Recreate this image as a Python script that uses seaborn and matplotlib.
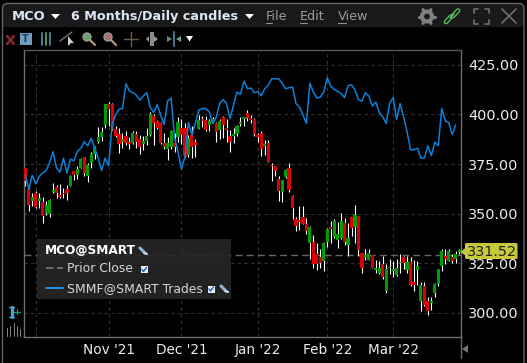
"""MCO 6 month daily candles with SMMF overlay, trading platform look."""
import numpy as np
import pandas as pd
import matplotlib
matplotlib.use("Agg")
import matplotlib.pyplot as plt
from matplotlib.patches import Circle, FancyBboxPatch, Polygon, Rectangle
import seaborn as sns

# Daily candles
opens = [373.2, 362.5, 356.2, 360.2, 356.2, 355.8, 350.5, 349.8, 360.7, 363.2, 359.3, 360.5, 362.2, 364.2, 371.7, 369.7,
         373.2, 378.5, 369.2, 375.5, 380.2, 386.2, 388.5, 394.7, 405.5, 405.2, 392.5, 390.2, 386.0, 389.2, 386.0, 385.5,
         390.2, 387.5, 385.2, 386.7, 389.8, 399.2, 396.7, 395.5, 385.5, 382.8, 383.5, 385.5, 388.5, 393.3, 393.3, 379.7,
         389.7, 386.2, 392.7, 397.5, 397.2, 394.8, 396.2, 395.5, 392.2, 398.5, 393.2, 389.2, 389.2, 390.2, 395.2, 397.5,
         400.5, 398.2, 397.5, 389.7, 390.5, 384.3, 385.5, 374.7, 373.8, 367.5, 360.8, 368.7, 373.2, 358.7, 347.1, 346.6,
         348.3, 344.6, 335.4, 335.9, 329.5, 328.1, 326.1, 335.9, 343.3, 338.2, 336.7, 337.5, 345.5, 334.2, 348.3, 343.4,
         348.8, 330.0, 328.3, 326.9, 329.1, 321.5, 319.9, 324.4, 310.9, 322.4, 321.0, 318.9, 324.9, 328.1, 321.4, 325.9,
         315.7, 321.4, 306.2, 313.8, 305.9, 305.2, 310.1, 314.8, 323.6, 328.6, 326.4, 328.1, 327.3, 330.6]
closes = [366.7, 354.2, 358.2, 353.5, 357.7, 348.8, 354.2, 356.7, 361.7, 360.5, 358.3, 359.7, 360.2, 369.2, 369.7, 372.7,
          377.7, 370.5, 374.7, 380.2, 383.5, 388.5, 391.2, 405.2, 402.7, 392.7, 389.2, 385.2, 387.5, 385.5, 385.2, 390.5,
          386.0, 383.5, 386.7, 389.2, 400.0, 395.5, 393.2, 385.5, 383.5, 385.5, 391.8, 383.5, 396.3, 389.7, 379.3, 388.3,
          383.5, 384.7, 397.2, 396.7, 392.2, 396.5, 397.5, 391.2, 396.7, 394.5, 392.3, 386.2, 390.2, 394.2, 396.2, 398.5,
          398.2, 397.3, 390.2, 388.7, 382.8, 385.2, 376.3, 373.8, 371.7, 361.3, 367.2, 372.2, 361.7, 352.7, 343.8, 345.8,
          344.6, 341.2, 343.3, 324.4, 324.4, 325.3, 335.4, 342.1, 342.1, 346.3, 339.6, 346.3, 335.9, 337.5, 342.6, 349.2,
          331.6, 322.4, 329.1, 330.0, 322.4, 322.4, 322.4, 318.0, 321.9, 323.2, 321.9, 322.4, 325.9, 324.9, 325.9, 314.3,
          314.0, 323.6, 314.0, 304.2, 301.2, 306.2, 314.8, 321.9, 331.1, 327.1, 331.1, 326.1, 329.5, 331.5]
highs = [373.2, 364.7, 360.5, 361.3, 360.5, 358.5, 356.3, 357.2, 365.5, 364.7, 365.0, 363.0, 364.7, 369.5, 371.7, 374.2,
         378.3, 378.8, 375.5, 381.3, 384.2, 393.8, 393.8, 405.5, 406.3, 406.0, 394.2, 393.0, 390.5, 391.7, 388.5, 391.7,
         391.7, 389.7, 389.2, 393.0, 401.3, 400.0, 397.2, 396.3, 390.5, 388.8, 392.2, 390.5, 398.5, 397.5, 395.5, 389.7,
         394.2, 387.7, 399.7, 399.3, 399.2, 397.5, 398.8, 396.3, 397.5, 399.2, 397.5, 392.2, 393.0, 394.7, 398.8, 398.8,
         402.5, 399.7, 398.0, 390.8, 391.7, 387.2, 387.2, 375.5, 374.2, 368.8, 367.2, 372.7, 375.5, 359.2, 348.5, 353.9,
         353.9, 348.0, 344.0, 339.1, 335.4, 332.0, 335.7, 342.9, 346.3, 347.1, 345.8, 350.2, 348.0, 345.5, 348.3, 354.2,
         348.8, 330.3, 332.0, 332.0, 329.1, 326.9, 326.4, 328.6, 324.4, 327.3, 326.4, 327.3, 329.5, 328.6, 328.6, 328.3,
         326.6, 326.1, 315.7, 315.5, 308.1, 308.1, 315.2, 321.9, 332.0, 332.3, 332.3, 329.5, 331.1, 332.0]
lows = [363.8, 351.3, 353.8, 352.7, 353.0, 345.3, 349.5, 348.3, 360.2, 358.0, 358.0, 357.7, 356.8, 364.0, 366.8, 367.5,
        372.8, 368.8, 365.8, 373.0, 377.5, 385.5, 386.8, 393.0, 394.3, 392.2, 388.5, 380.5, 383.0, 384.7, 382.7, 385.2,
        383.0, 380.0, 382.2, 384.7, 389.3, 384.7, 392.5, 385.0, 382.5, 377.2, 382.5, 381.3, 386.3, 385.0, 378.8, 378.8,
        378.3, 378.8, 392.7, 393.8, 391.8, 391.8, 395.5, 386.3, 387.7, 388.0, 386.3, 381.2, 385.5, 389.2, 394.3, 394.3,
        396.7, 395.5, 389.2, 386.3, 379.2, 379.7, 375.8, 366.7, 368.8, 356.3, 355.8, 368.0, 361.0, 347.2, 341.2, 341.8,
        344.6, 339.6, 327.3, 322.7, 321.5, 322.7, 321.0, 333.2, 335.4, 337.9, 332.8, 337.0, 334.0, 328.6, 338.7, 335.4,
        328.6, 319.9, 326.9, 326.6, 322.4, 320.2, 319.4, 317.3, 309.8, 319.4, 318.2, 318.5, 319.9, 321.9, 320.2, 313.8,
        310.9, 314.3, 301.2, 303.7, 298.7, 301.7, 307.9, 313.8, 321.0, 324.7, 326.1, 325.3, 325.3, 329.5]

# SMMF overlay, one value per session (stops one session before the last candle)
smmf = [369.7, 362.5, 369.3, 365.0, 368.8, 370.5, 371.7, 375.8, 381.3, 373.0, 371.0, 378.0, 370.5, 377.5, 376.7, 381.3,
        383.0, 386.3, 384.2, 388.0, 383.0, 378.0, 371.7, 378.0, 374.2, 394.7, 399.7, 402.7, 403.0, 415.5, 411.8, 411.0,
        409.7, 407.2, 409.3, 411.0, 403.5, 401.0, 405.0, 399.7, 395.0, 406.8, 408.3, 388.5, 381.3, 372.5, 378.8, 395.8,
        389.7, 395.5, 402.2, 403.0, 403.0, 401.3, 395.5, 398.5, 405.5, 407.5, 405.5, 398.0, 404.7, 411.3, 410.2, 416.8,
        413.0, 413.3, 411.0, 411.5, 409.5, 413.0, 414.7, 418.0, 418.0, 418.0, 415.8, 413.0, 413.5, 413.8, 405.5, 403.8,
        399.7, 395.5, 415.8, 411.3, 408.3, 408.8, 411.3, 418.5, 414.3, 412.7, 411.7, 410.5, 408.5, 414.5, 415.0, 412.2,
        407.5, 406.7, 411.0, 409.3, 404.2, 406.3, 401.0, 398.8, 395.5, 405.8, 408.5, 397.5, 405.5, 398.8, 391.3, 382.2,
        382.2, 383.0, 378.0, 378.0, 384.2, 379.3, 386.0, 384.3, 403.0, 396.7, 396.0, 390.0, 394.7]

price_ticks = [300, 325, 350, 375, 400, 425]
price_labels = ["300.00", "325.00", "350.00", "375.00", "400.00", "425.00"]
month_ticks = [3, 24, 45, 67, 87, 106]
month_labels = ["", "Nov '21", "Dec '21", "Jan '22", "Feb '22", "Mar '22"]
prior_close = 329.3
last_price = "331.52"

W, H = 527, 363
GRID = "#333333"
FRAME = "#6e6e6e"
RED = "#dc0000"
GREEN = "#009c00"

sns.set_theme(style="dark", rc={"axes.facecolor": "black", "figure.facecolor": "black", "axes.grid": False})
plt.rcParams["font.family"] = ["DejaVu Sans"]

df = pd.DataFrame({"session": np.arange(len(opens)), "open": opens, "close": closes, "high": highs, "low": lows})
df["up"] = df["close"] >= df["open"]
overlay = pd.DataFrame({"session": np.arange(len(smmf)), "smmf": smmf})

fig = plt.figure(figsize=(W / 100, H / 100), dpi=100)
ax = fig.add_axes([23.5 / W, 1 - 336.5 / H, 437 / W, 286.5 / H])

# grid
for y in price_ticks:
    ax.axhline(y, color=GRID, lw=0.8, ls=(0, (3, 3)), zorder=1)
for x in month_ticks:
    ax.axvline(x, color=GRID, lw=0.8, ls=(0, (3, 3)), zorder=1)
ax.axhline(prior_close, color="#666666", lw=1, ls=(0, (5, 3)), zorder=1.5)

# candles
wicks = ax.vlines(df["session"], df["low"], df["high"], color="white", lw=0.8, zorder=2)
wicks.set_snap(True)
body_colors = [GREEN if u else RED for u in df["up"]]
ax.bar(df["session"], (df["close"] - df["open"]).abs().clip(lower=0.8), bottom=df[["open", "close"]].min(axis=1),
       width=0.9, color=body_colors, linewidth=0, zorder=3)

sns.lineplot(data=overlay, x="session", y="smmf", ax=ax, color="#0a80d8", lw=1.1, zorder=4, legend=False)

ax.set_xlim(-0.52, 125.4)
ax.set_ylim(288.1, 432.5)
ax.set_xlabel("")
ax.set_ylabel("")
ax.yaxis.tick_right()
ax.set_yticks(price_ticks)
ax.set_yticklabels(price_labels, color="#ececec", fontsize=10.4)
ax.set_xticks(month_ticks)
ax.set_xticklabels(month_labels, color="#ececec", fontsize=9.8)
ax.tick_params(axis="y", length=0, pad=5.5)
ax.tick_params(axis="x", length=3, width=0.8, color=FRAME, pad=1.5)
for side in ["top", "left", "right", "bottom"]:
    ax.spines[side].set_color(FRAME)
    ax.spines[side].set_linewidth(1)
    ax.spines[side].set_visible(True)
ax.spines["top"].set_color("#555555")

# window chrome and legend, drawn in pixel space
ui = fig.add_axes([0, 0, 1, 1], zorder=5)
ui.set_xlim(0, W)
ui.set_ylim(H, 0)
ui.axis("off")
ui.patch.set_alpha(0)

ui.add_patch(Rectangle((3, 4), 520, 23, color="#191919", lw=0, zorder=0))
ui.add_patch(FancyBboxPatch((2.5, 3.5), 521.5, 400, boxstyle="round,pad=0,rounding_size=5", fc="none", ec="#666666", lw=1))
ui.plot([460.5, 460.5], [336, 358], color=FRAME, lw=1)

TITLE = "#dce8f5"
ui.text(12, 16.5, "MCO", color=TITLE, fontsize=9.4, fontweight="bold", va="center")
ui.add_patch(Polygon([[51, 14], [60, 14], [55.5, 19]], color="white", lw=0))
ui.text(71, 16.5, "6 Months/Daily candles", color=TITLE, fontsize=9.2, fontweight="bold", va="center")
ui.add_patch(Polygon([[245, 14], [254, 14], [249.5, 19]], color="white", lw=0))
for x, label, w in [(266, "File", 6), (300, "Edit", 7), (338, "View", 8)]:
    ui.text(x, 16.5, label, color="#9a9a9a", fontsize=9.2, va="center")
    ui.plot([x, x + w], [22.5, 22.5], color="#9a9a9a", lw=0.7)

# gear, link, expand, close
ui.add_patch(Circle((427, 16.5), 5, fc="none", ec="#7f7f7f", lw=3))
for a in np.arange(0, 360, 60):
    ui.plot([427 + 6 * np.cos(np.radians(a)), 427 + 8 * np.cos(np.radians(a))],
            [16.5 + 6 * np.sin(np.radians(a)), 16.5 + 8 * np.sin(np.radians(a))], color="#7f7f7f", lw=2.2)
for seg in [([446, 451], [22, 16.5]), ([453, 458], [16, 10.5])]:
    ui.plot(seg[0], seg[1], color="#58c85a", lw=3.4, solid_capstyle="round")
    ui.plot(seg[0], seg[1], color="#191919", lw=1.6, solid_capstyle="round")
ui.plot([450, 454], [18, 14], color="#58c85a", lw=1.1)
for (x0, y0, dx, dy) in [(474, 9, 1, 1), (489, 9, -1, 1), (474, 24, 1, -1), (489, 24, -1, -1)]:
    ui.plot([x0 + 4 * dx, x0, x0], [y0, y0, y0 + 4 * dy], color="#6f6f6f", lw=1.2)
ui.plot([502, 516], [9, 23], color="#6f6f6f", lw=1.2)
ui.plot([502, 516], [23, 9], color="#6f6f6f", lw=1.2)

# toolbar
ui.plot([7, 14], [36, 44], color="#8a2a2a", lw=1.8)
ui.plot([7, 14], [44, 36], color="#8a2a2a", lw=1.8)
ui.add_patch(Rectangle((19.5, 33), 12, 12, color="#6f9fbf", lw=0))
ui.text(25.5, 39.2, "T", color="#1c3c55", fontsize=7, fontweight="bold", ha="center", va="center")
for x, c in [(42, "#3f7f9f"), (46, "#5a8f5a"), (50, "#3f7f9f")]:
    ui.plot([x, x], [33, 45], color=c, lw=1.4)
ui.plot([60, 72], [41, 32], color="#777777", lw=1)
ui.add_patch(Polygon([[68, 36], [68, 46], [71, 43], [74, 43]], color="#cccccc", lw=0))
for x, c in [(87, "#6f9f6f"), (108, "#a87070")]:
    ui.add_patch(Circle((x, 37), 4, fc=c, ec="#999999", lw=1))
    ui.plot([x + 3, x + 8], [40, 45], color="#b09a70", lw=1.6)
ui.plot([124, 138], [39, 39], color="#6a5a4a", lw=1)
ui.plot([131, 131], [32, 46], color="#6a5a4a", lw=1)
ui.add_patch(Rectangle((149.5, 32), 4, 14, color="#8a8a8a", lw=0))
ui.add_patch(Polygon([[146, 39], [149, 36], [149, 42]], color="#999999", lw=0))
ui.add_patch(Polygon([[158, 39], [154, 36], [154, 42]], color="#999999", lw=0))
ui.plot([174, 174], [32, 46], color="#4a7a9a", lw=1.4)
ui.add_patch(Polygon([[167, 36], [172, 39], [167, 42]], color="#5f8f6f", lw=0))
ui.add_patch(Polygon([[181, 36], [176, 39], [181, 42]], color="#7a9a8a", lw=0))
ui.add_patch(Polygon([[186, 36], [193, 36], [189.5, 41.5]], color="white", lw=0))


def check(x, y):
    ui.add_patch(Rectangle((x - 3.5, y - 3.5), 7, 7, color="#e8eef5", lw=0))
    ui.plot([x - 2, x - 0.5, x + 2.5], [y, y + 2, y - 2], color="#1a5fc0", lw=1)


def wrench(x, y):
    ui.plot([x - 3, x + 2], [y - 3, y + 2], color="#8fb4d8", lw=2.2)
    ui.plot([x + 1, x + 4], [y + 2, y + 3], color="#c8d4e0", lw=1.6)


# legend panel
ui.add_patch(Rectangle((37, 239), 194, 59.5, fc="#262626", alpha=0.9, lw=0))
ui.text(45, 250.5, "MCO@SMART", color="white", fontsize=8.7, fontweight="bold", va="center")
wrench(143, 251)
ui.plot([46, 63], [268, 268], color="#7a7a7a", lw=1.2, ls=(0, (4.5, 2.2)))
ui.text(67, 268.5, "Prior Close", color="#d8d8d8", fontsize=8.9, va="center")
check(144, 269.5)
ui.plot([46, 63], [288, 288], color="#1e9fff", lw=1.3)
ui.text(67, 288.5, "SMMF@SMART Trades", color="#d8d8d8", fontsize=8.9, va="center")
check(211, 289)
wrench(224, 289)

# last price tag
ui.add_patch(FancyBboxPatch((465, 243), 52.5, 16, boxstyle="round,pad=0,rounding_size=1.5", fc="#c8c83e", ec="none"))
ui.add_patch(Polygon([[460.5, 252], [466, 247.5], [466, 256]], color="#c8c83e", lw=0))
ui.text(491.5, 251.5, last_price, color="#222222", fontsize=10.4, ha="center", va="center")

# small widgets bottom corners
ui.plot([11.5, 11.5], [307, 317], color="#4aa0d0", lw=2.4)
ui.plot([9, 14], [307, 307], color="#4aa0d0", lw=1)
ui.plot([9, 14], [317, 317], color="#4aa0d0", lw=1)
ui.plot([14, 20], [311.5, 311.5], color="#20a050", lw=0.9)
ui.plot([17, 17], [309, 314], color="#20a050", lw=0.9)
for x, y0 in [(6.5, 328), (10, 326), (13.5, 323), (16.5, 326), (20, 329)]:
    ui.plot([x, x], [y0, 335.5], color="#888888", lw=0.7)
ui.add_patch(Polygon([[462, 349], [468, 345], [468, 353]], color="#777777", lw=0))

plt.savefig("out.png", dpi=100, facecolor="black")
plt.close()
